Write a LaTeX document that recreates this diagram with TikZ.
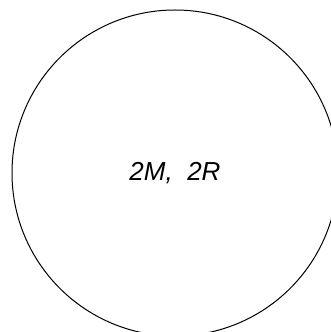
\documentclass[tikz,border=0pt]{standalone}
\usepackage{fontspec}
\setmainfont{Liberation Sans}
\usetikzlibrary{math}

\begin{document}
\begin{tikzpicture}[x=1pt,y=1pt]
\tikzmath{
\R=163;
\cx=175;
\cy=159;
}
\useasboundingbox (0,0) rectangle (331,332);
\clip (0,0) rectangle (331,332);

\draw[line width=1] (\cx,\cy) circle (\R);
\node[font=\itshape\fontsize{26}{31}\selectfont] (star) at (\cx,\cy) {2M,\ \ 2R};

\end{tikzpicture}
\end{document}
